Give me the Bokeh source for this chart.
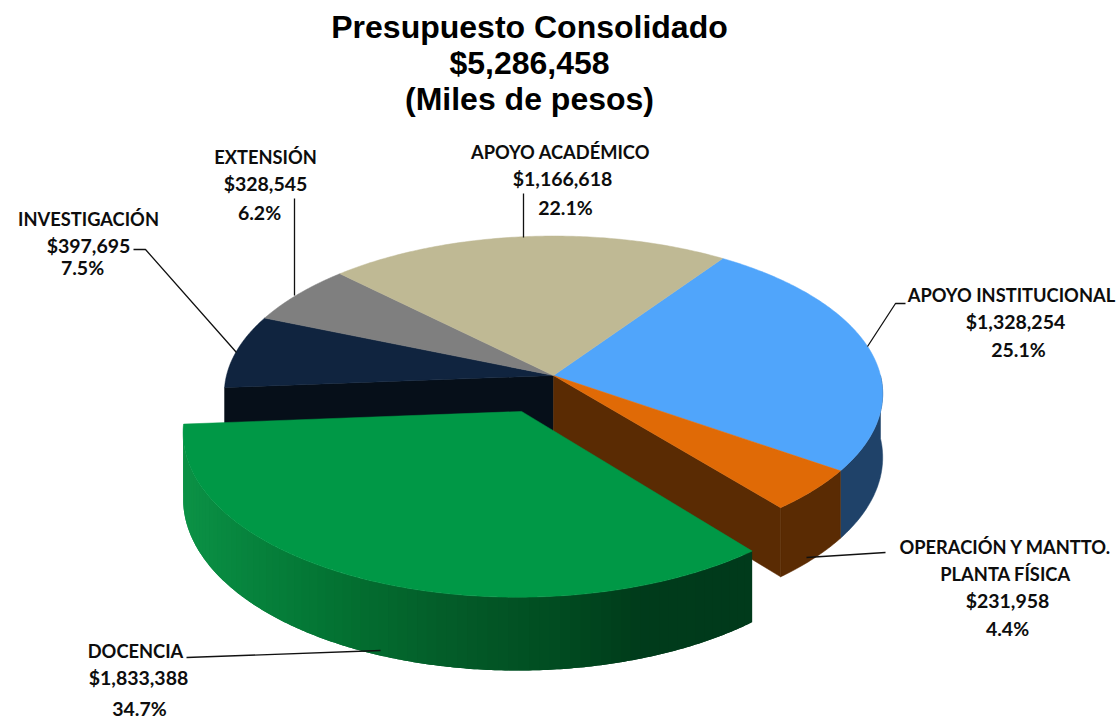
import numpy as np
from bokeh.plotting import figure
from bokeh.models import Range1d
from bokeh.core.properties import value
from bokeh.embed import file_html
from bokeh.resources import INLINE

title_lines = ["Presupuesto Consolidado", "$5,286,458", "(Miles de pesos)"]
# clockwise from the start angle
categories = ["APOYO INSTITUCIONAL", "OPERACIÓN Y MANTTO.|PLANTA FÍSICA", "DOCENCIA",
              "INVESTIGACIÓN", "EXTENSIÓN", "APOYO ACADÉMICO"]
budget = [1328254, 231958, 1833388, 397695, 328545, 1166618]
top_colors = ["#50a5fb", "#e06a06", "#009846", "#10243f", "#7f7f7f", "#bfb994"]
side_colors = ["#1f4269", "#5a2b03", "#00702f", "#060f19", "#555555", "#807c62"]
label_lines = {
    "APOYO INSTITUCIONAL": [(1011, 294), (1015, 321), (1018, 349)],
    "OPERACIÓN Y MANTTO.|PLANTA FÍSICA": [(1005, 546), (1005, 573), (1007, 600), (1007, 628)],
    "DOCENCIA": [(135, 650), (138, 677), (139, 708)],
    "INVESTIGACIÓN": [(88, 218), (88, 245), (82, 267)],
    "EXTENSIÓN": [(265, 156), (265, 183), (259, 212)],
    "APOYO ACADÉMICO": [(560, 151), (562, 178), (565, 207)],
}
leaders = [
    ([133, 145, 236], [249, 249, 352]),
    ([294, 294], [198, 295]),
    ([523, 523], [193, 237]),
    ([867, 895, 905], [346, 303, 303]),
    ([806, 885], [557, 552]),
    ([186, 380], [657, 650]),
]

CX, CY, A, B, K, DROP = 553.0, 375.0, 327.0, 155.5, 0.115, 63.0
START = 55.5
EX, EZ = -0.095, -0.225
GRAD_X = [185, 230, 340, 440, 560, 640, 750]
GRAD_R = [12, 8, 3, 4, 1, 0, 0]
GRAD_G = [146, 136, 114, 94, 76, 60, 58]
GRAD_B = [70, 64, 50, 42, 33, 27, 27]


def project(X, Z, lowered=False):
    d = 1 + K * Z
    x = CX + A * X / d
    y = CY - B * Z / d
    if lowered:
        y = y + DROP / d
    return x, y


total = sum(budget)
shares = np.array(budget) / total
edges = START - np.concatenate([[0], np.cumsum(shares) * 360])

p = figure(width=1118, height=719, x_range=Range1d(0, 1118), y_range=Range1d(719, 0),
           output_backend="svg", toolbar_location=None, min_border=0,
           outline_line_color=None, background_fill_color="white")
p.axis.visible = False
p.grid.visible = False


def arc(t0, t1, n=120):
    return np.radians(np.linspace(t0, t1, n))


def ext(xa, ya, xb, yb, color):
    p.patch(list(xa) + list(xb)[::-1], list(ya) + list(yb)[::-1], fill_color=color,
            line_color=color, line_width=0.5)


# back walls / outer sides
vis = np.radians(np.linspace(0, edges[1], 80))
xa, ya = project(np.cos(vis), np.sin(vis))
xb, yb = project(np.cos(vis), np.sin(vis), True)
ext(xa, ya, xb, yb, side_colors[0])

# black wall of the piece behind the exploded slice
t = np.radians(edges[3])
xa, ya = project(np.array([0, np.cos(t)]), np.array([0, np.sin(t)]))
xb, yb = project(np.array([0, np.cos(t)]), np.array([0, np.sin(t)]), True)
ext(xa, ya, xb, yb, side_colors[3])

# brown outer side and wall of the small slice
th = arc(edges[1], edges[2], 30)
xa, ya = project(np.cos(th), np.sin(th))
xb, yb = project(np.cos(th), np.sin(th), True)
ext(xa, ya, xb, yb, side_colors[1])
t = np.radians(edges[2])
xa, ya = project(np.array([0, np.cos(t)]), np.array([0, np.sin(t)]))
xb, yb = project(np.array([0, np.cos(t)]), np.array([0, np.sin(t)]), True)
ext(xa, ya, xb, yb, side_colors[1])

# top faces of the slices in place
for i in [0, 1, 3, 4, 5]:
    th = arc(edges[i], edges[i + 1])
    X = np.concatenate([[0], np.cos(th)])
    Z = np.concatenate([[0], np.sin(th)])
    x, y = project(X, Z)
    p.patch(list(x), list(y), fill_color=top_colors[i], line_color=top_colors[i], line_width=0.5)

# exploded slice: shaded side drawn as overlapping strips
th = arc(edges[2], edges[3], 241)
X, Z = np.cos(th) + EX, np.sin(th) + EZ
xa, ya = project(X, Z)
xb, yb = project(X, Z, True)
STEP = 3
for j in range(0, len(th) - STEP, STEP):
    mx = xa[j + STEP // 2]
    c = "#%02x%02x%02x" % (int(np.interp(mx, GRAD_X, GRAD_R)), int(np.interp(mx, GRAD_X, GRAD_G)),
                           int(np.interp(mx, GRAD_X, GRAD_B)))
    k = min(j + 2 * STEP, len(th) - 1)
    sx = list(xa[j:k + 1]) + list(xb[j:k + 1])[::-1]
    sy = list(ya[j:k + 1]) + list(yb[j:k + 1])[::-1]
    p.patch(sx, sy, fill_color=c, line_color=None)
x, y = project(np.concatenate([[EX], X]), np.concatenate([[EZ], Z]))
p.patch(list(x), list(y), fill_color=top_colors[2], line_color=top_colors[2], line_width=0.5)

# leader lines
for lx, ly in leaders:
    p.line(lx, ly, line_color="#111111", line_width=1.3)

# labels: names in one size, figures slightly larger
nx, ny, nt, vx, vy, vt = [], [], [], [], [], []
for name, v, s in zip(categories, budget, shares):
    names = name.split("|")
    figures_ = [f"${v:,}", f"{s * 100:.1f}%"]
    pos = label_lines[name]
    for (lx, ly), t_ in zip(pos, names):
        nx.append(lx); ny.append(ly); nt.append(t_)
    for (lx, ly), t_ in zip(pos[len(names):], figures_):
        vx.append(lx); vy.append(ly); vt.append(t_)
p.text(nx, ny, text=nt, text_font=value("Lato"), text_font_style="bold", text_font_size="18.3px",
       text_align="center", text_baseline="middle", text_color="#0d0d0d")
p.text(vx, vy, text=vt, text_font=value("Lato"), text_font_style="bold", text_font_size="19.5px",
       text_align="center", text_baseline="middle", text_color="#0d0d0d")

p.text([529, 529, 529], [26, 62, 98], text=title_lines, text_font=value("Liberation Sans"),
       text_font_style="bold", text_font_size="32px", text_align="center",
       text_baseline="middle", text_color="#000000")

open("out.html", "w").write(file_html(p, INLINE))
